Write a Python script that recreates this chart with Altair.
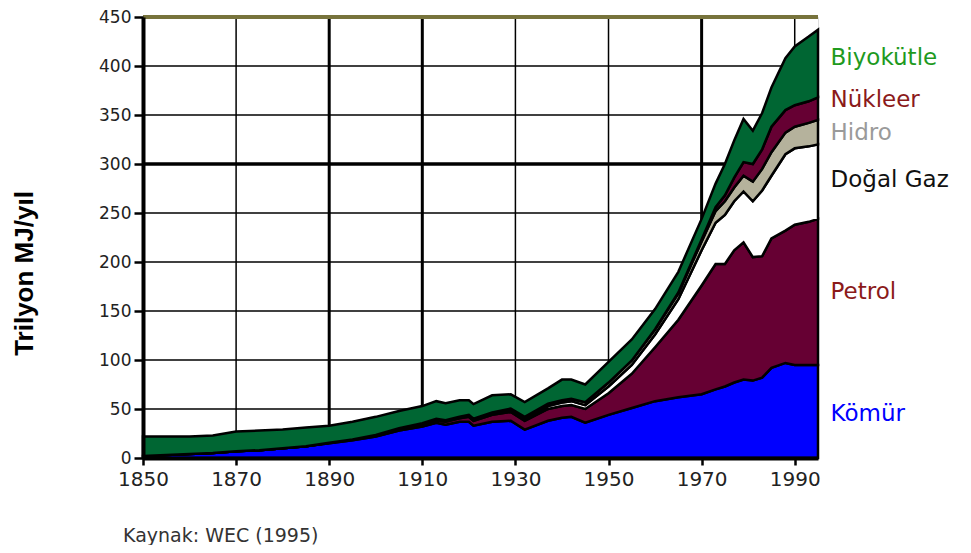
import altair as alt
import pandas as pd

# ---- data (trillion MJ per year) ----
years = [1850, 1855, 1860, 1865, 1870, 1875, 1880, 1885, 1890, 1895, 1900, 1905,
         1910, 1913, 1915, 1918, 1920, 1921, 1925, 1929, 1932, 1937, 1940, 1942,
         1945, 1950, 1955, 1960, 1965, 1970, 1973, 1975, 1977, 1979, 1981, 1983,
         1985, 1988, 1990, 1993, 1995]

komur = [2, 3, 4, 5, 7, 8, 10, 12, 15, 18, 22, 28,
         32, 36, 34, 37, 37, 33, 37, 38, 29, 38, 41, 42,
         36, 44, 51, 58, 62, 65, 70, 73, 77, 80, 79, 82,
         92, 97, 95, 95, 95]
petrol = [0, 0, 0, 0, 0, 0, 0, 0, 0.5, 1, 1, 1.5,
          2, 2.5, 3, 3.5, 5, 5, 7, 9, 9, 12, 12, 12,
          14, 22, 35, 55, 79, 111, 128, 125, 135, 140, 126, 124,
          132, 135, 143, 146, 149]
dogal_gaz = [0, 0, 0, 0, 0, 0, 0, 0, 0, 0, 0.5, 0.5,
             1, 1, 1, 1, 1, 1, 1.5, 2, 2, 3, 3.5, 4,
             4, 7, 9, 13, 21, 36, 42, 50, 50, 52, 57, 67,
             64, 78, 78, 77, 76]
hidro = [0, 0, 0, 0, 0, 0, 0, 0, 0, 0, 0, 0.5,
         0.5, 0.5, 0.5, 0.5, 1, 1, 1, 1.5, 2, 2.5, 2.5, 2.5,
         3, 4, 4.5, 5, 6, 9, 12, 14, 14, 16, 20, 22,
         24, 22, 22, 24, 25]
nukleer = [0, 0, 0, 0, 0, 0, 0, 0, 0, 0, 0, 0,
           0, 0, 0, 0, 0, 0, 0, 0, 0, 0, 0, 0,
           0, 0, 0, 0.5, 1, 2, 4, 6, 10, 14, 18, 20,
           26, 23, 22, 22, 23]
biyokutle = [20, 19, 18, 18, 20, 20, 19, 19, 17.5, 18, 18.5, 17.5,
             17.5, 18, 17.5, 17, 15, 15, 17.5, 14.5, 15, 15.5, 21, 19.5,
             18, 21, 21.5, 20.5, 21, 21, 24, 32, 38, 44, 34, 37,
             40, 53, 60, 66, 69]

sources = ["Kömür", "Petrol", "Doğal Gaz", "Hidro", "Nükleer", "Biyokütle"]
series = [komur, petrol, dogal_gaz, hidro, nukleer, biyokutle]
fill_colors = ["#0000FF", "#660033", "#FFFFFF", "#B5B29C", "#660033", "#006633"]
label_colors = ["#0000FF", "#8B1A1A", "#111111", "#9A9A9A", "#8B1A1A", "#1E9A1E"]
label_values = [45, 169, 284, 332, 365, 408]   # y value beside each label
label_year = 1997.7

x_ticks = [1850, 1870, 1890, 1910, 1930, 1950, 1970, 1990]
y_ticks = [0, 50, 100, 150, 200, 250, 300, 350, 400, 450]
v_grid = [1870, 1890, 1910, 1930, 1950, 1970, 1990]
h_grid = [50, 100, 150, 200, 250, 300, 350, 400]
y_top = 450

rows = []
for k, (name, vals) in enumerate(zip(sources, series)):
    for yr, v in zip(years, vals):
        rows.append({"year": yr, "source": name, "value": v, "ord": k})
df = pd.DataFrame(rows)

xscale = alt.Scale(domain=[1850, 1995], nice=False, zero=False)
yscale = alt.Scale(domain=[0, 450], nice=False)

x_axis = alt.Axis(values=x_ticks, format="d", title=None, grid=False,
                  labelFont="DejaVu Sans", labelFontSize=20, labelColor="#222",
                  labelFlush=False, labelOverlap=False, labelPadding=4,
                  tickSize=7, tickWidth=2.5, tickColor="black",
                  domainColor="black", domainWidth=4, zindex=1)
y_axis = alt.Axis(values=y_ticks, title="Trilyon MJ/yıl", grid=False,
                  titleFont="Liberation Sans", titleFontSize=26,
                  titleFontWeight="bold", titleColor="black",
                  titleAngle=270, titleAlign="center", titleBaseline="bottom",
                  titleX=-106, titleY=256,
                  labelFont="DejaVu Sans", labelFontSize=17, labelColor="#222",
                  labelPadding=3, tickSize=9, tickWidth=2.5, tickColor="black",
                  domainColor="black", domainWidth=4, zindex=1)

vgrid = alt.Chart(pd.DataFrame({"v": v_grid})).mark_rule(color="black").encode(
    x=alt.X("v:Q", scale=xscale, axis=x_axis),
    strokeWidth=alt.condition("datum.v == 1890 || datum.v == 1910 || datum.v == 1970",
                              alt.value(3), alt.value(1.5)),
)
hgrid = alt.Chart(pd.DataFrame({"h": h_grid})).mark_rule(color="black").encode(
    y=alt.Y("h:Q", scale=yscale, axis=y_axis),
    strokeWidth=alt.condition("datum.h == 300", alt.value(3.5),
                              alt.value(1.5)),
)

areas = alt.Chart(df).mark_area(stroke="black", strokeWidth=2.5).encode(
    x=alt.X("year:Q", scale=xscale, axis=x_axis),
    y=alt.Y("value:Q", stack="zero", scale=yscale, axis=y_axis),
    color=alt.Color("source:N", scale=alt.Scale(domain=sources, range=fill_colors),
                    legend=None),
    order=alt.Order("ord:Q"),
)

top_border = alt.Chart(pd.DataFrame({"t": [y_top]})).mark_rule(
    color="#77733C", strokeWidth=4).encode(
    y=alt.Y("t:Q", scale=yscale, axis=y_axis),
)

labels = alt.Chart(pd.DataFrame({
    "label": sources, "ly": label_values, "lc": label_colors,
    "lx": [label_year] * len(sources)})).mark_text(
    align="left", baseline="middle", font="DejaVu Sans", fontSize=23).encode(
    x=alt.X("lx:Q", scale=xscale, axis=x_axis),
    y=alt.Y("ly:Q", scale=yscale, axis=y_axis),
    text="label:N",
    color=alt.Color("lc:N", scale=None),
)

chart = alt.layer(vgrid, hgrid, areas, top_border, labels).properties(
    width=675, height=441,
    autosize=alt.AutoSizeParams(type="none"),
    padding={"left": 135, "top": 9, "right": 142, "bottom": 87},
    title=alt.TitleParams("Kaynak: WEC (1995)", orient="bottom", anchor="start",
                          frame="group", dx=-20, offset=38, font="DejaVu Sans",
                          fontSize=19, fontWeight="normal", color="#333"),
).configure_view(stroke="#77733C", strokeWidth=4).configure(background="white")

chart.save("out.html", embed_options={"renderer": "svg", "actions": False})
